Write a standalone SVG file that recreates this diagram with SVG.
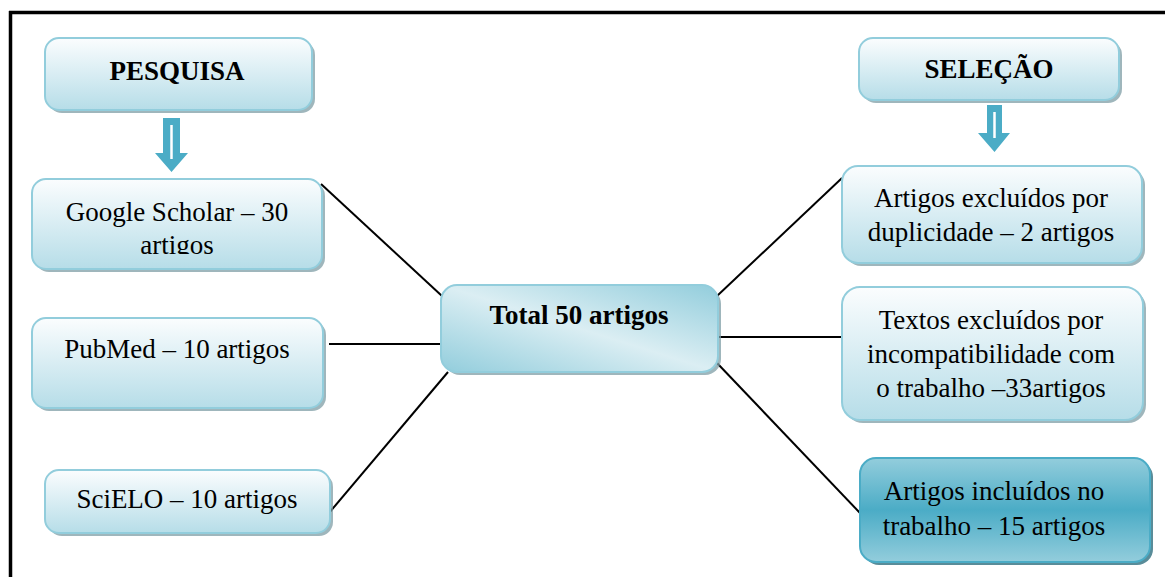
<svg xmlns="http://www.w3.org/2000/svg" width="1165" height="577" viewBox="0 0 1165 577">
<defs>
<linearGradient id="gLight" x1="0" y1="0" x2="0" y2="1">
<stop offset="0" stop-color="#fbfdfe"/>
<stop offset="1" stop-color="#b6dde8"/>
</linearGradient>
<linearGradient id="gTotal" x1="0" y1="1" x2="1" y2="0">
<stop offset="0" stop-color="#92cddc"/>
<stop offset="0.5" stop-color="#dbeef3"/>
<stop offset="1" stop-color="#92cddc"/>
</linearGradient>
<linearGradient id="gDark" x1="0" y1="0" x2="0" y2="1">
<stop offset="0" stop-color="#93cddc"/>
<stop offset="0.5" stop-color="#4bacc6"/>
<stop offset="1" stop-color="#93cddc"/>
</linearGradient>
<clipPath id="clipGS"><rect x="30" y="170" width="300" height="84"/></clipPath>
</defs>
<style>
.box{fill:url(#gLight);stroke:#92cddc;stroke-width:2}
.sh{fill:#7f9ea6;opacity:0.75}
.t{font-family:"Liberation Serif","Times New Roman",serif;font-size:27px;fill:#000;text-anchor:middle}
.b{font-weight:bold}
.conn line{stroke:#000;stroke-width:2}
.arr{fill:#4bacc6}
.arrl{stroke:#fff;stroke-width:2.5}
</style>
<rect x="0" y="0" width="1165" height="577" fill="#fff"/>
<g id="frame" fill="none" stroke="#000" stroke-width="3.5">
<line x1="9" y1="12.5" x2="1165" y2="12.5"/>
<line x1="10.5" y1="11" x2="10.5" y2="577"/>
</g>
<g class="conn" id="connectors">
<line x1="321" y1="184" x2="442" y2="296"/>
<line x1="329" y1="344" x2="442" y2="344"/>
<line x1="329" y1="513" x2="448" y2="372"/>
<line x1="717" y1="296" x2="842" y2="178"/>
<line x1="717" y1="337" x2="842" y2="337"/>
<line x1="717" y1="363" x2="860" y2="513"/>
</g>
<g id="pesquisa">
<rect class="sh" x="48" y="41" width="267" height="72" rx="14"/>
<rect class="box" x="45" y="38" width="267" height="72" rx="14"/>
<text class="t b" x="177" y="80">PESQUISA</text>
</g>
<g id="arrow-pesquisa">
<polygon class="arr" points="163,118 180,118 180,153 188,153 171.5,172 155,153 163,153"/>
<line class="arrl" x1="171.5" y1="125" x2="171.5" y2="159"/>
</g>
<g id="selecao">
<rect class="sh" x="862" y="41" width="260" height="62" rx="14"/>
<rect class="box" x="859" y="38" width="260" height="62" rx="14"/>
<text class="t b" x="989" y="78">SELEÇÃO</text>
</g>
<g id="arrow-selecao">
<polygon class="arr" points="987,105 1002,105 1002,133 1010,133 994.5,152 978,133 987,133"/>
<line class="arrl" x1="994.5" y1="112" x2="994.5" y2="138"/>
</g>
<g id="google">
<rect class="sh" x="35" y="182" width="290" height="90" rx="14"/>
<rect class="box" x="32" y="179" width="290" height="90" rx="14"/>
<g clip-path="url(#clipGS)">
<text class="t" x="177" y="221">Google Scholar – 30</text>
<text class="t" x="177" y="254">artigos</text>
</g>
</g>
<g id="pubmed">
<rect class="sh" x="35" y="321" width="291" height="90" rx="14"/>
<rect class="box" x="32" y="318" width="291" height="90" rx="14"/>
<text class="t" x="177" y="358">PubMed – 10 artigos</text>
</g>
<g id="scielo">
<rect class="sh" x="48" y="473" width="285" height="63" rx="14"/>
<rect class="box" x="45" y="470" width="285" height="63" rx="14"/>
<text class="t" x="187" y="508">SciELO – 10 artigos</text>
</g>
<g id="total">
<rect class="sh" x="444" y="288" width="277" height="87" rx="16"/>
<rect x="441" y="285" width="277" height="87" rx="16" fill="url(#gTotal)" stroke="#92cddc" stroke-width="2"/>
<text class="t b" x="579" y="324">Total 50 artigos</text>
</g>
<g id="excluidos">
<rect class="sh" x="845" y="169" width="300" height="97" rx="16"/>
<rect class="box" x="842" y="166" width="300" height="97" rx="16"/>
<text class="t" x="991" y="207">Artigos excluídos por</text>
<text class="t" x="991" y="241">duplicidade – 2 artigos</text>
</g>
<g id="textos">
<rect class="sh" x="845" y="290" width="301" height="133" rx="18"/>
<rect class="box" x="842" y="287" width="301" height="133" rx="18"/>
<text class="t" x="991" y="329">Textos excluídos por</text>
<text class="t" x="991" y="363">incompatibilidade com</text>
<text class="t" x="991" y="397">o trabalho –33artigos</text>
</g>
<g id="incluidos">
<rect x="863" y="461" width="290" height="104" rx="16" fill="#2f6f80" opacity="0.8"/>
<rect x="860" y="458" width="290" height="104" rx="16" fill="url(#gDark)" stroke="#4bacc6" stroke-width="2"/>
<text class="t" x="994" y="500">Artigos incluídos no</text>
<text class="t" x="994" y="535">trabalho – 15 artigos</text>
</g>
</svg>
